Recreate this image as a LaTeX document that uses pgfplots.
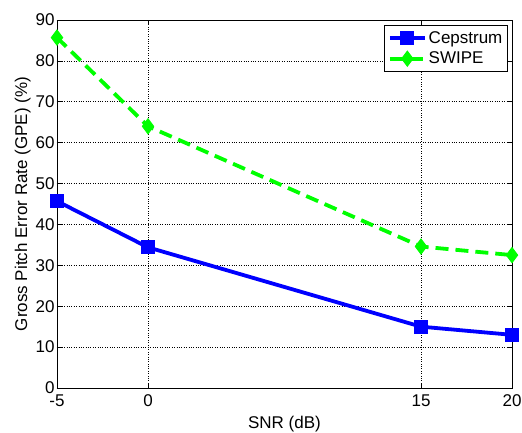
\documentclass[border=0pt]{standalone}
\usepackage{pgfplots}
\pgfplotsset{compat=1.18}
\usepackage{fontspec}
\setmainfont{Liberation Sans}
\begin{document}
\begin{tikzpicture}
\begin{axis}[
  at={(0,0)}, anchor=south west,
  scale only axis,
  width=455bp, height=368bp,
  xmin=-5, xmax=20, ymin=0, ymax=90,
  xtick={-5,0,15,20},
  ytick={0,10,...,90},
  /pgf/number format/assume math mode=true,
  ticklabel style={font=\fontsize{17bp}{20bp}\selectfont},
  label style={font=\fontsize{17bp}{20bp}\selectfont},
  xlabel={SNR (dB)},
  ylabel={Gross Pitch Error Rate (GPE) (\%)},
  xlabel style={at={(ticklabel cs:0.5)}, yshift=-2.5bp},
  ylabel style={yshift=-2bp},
  xticklabel style={yshift=-3bp},
  yticklabel style={xshift=1bp},
  tick align=inside,
  major tick length=5bp,
  tick style={black, line width=0.6bp},
  axis line style={black, line width=0.8bp},
  grid=major,
  major grid style={black, dotted, line width=0.6bp},
  legend style={at={(rel axis cs:0.991,0.986)}, anchor=north east,
    draw=black, line width=1bp, fill=white,
    font=\fontsize{17bp}{20bp}\selectfont,
    inner xsep=3bp, inner ysep=4bp, row sep=3bp},
  legend cell align=left,
  legend image code/.code={%
    \draw[mark repeat=2,mark phase=2,#1] plot coordinates {(0bp,0bp)(17.5bp,0bp)(35bp,0bp)};},
]
\addplot[color=blue, solid, line width=3.8bp, mark=square*,
  mark size=6.5bp, mark options={solid, line width=1bp, fill=blue}]
  coordinates {(-5,45.7) (0,34.4) (15,15.0) (20,13.0)};
\addlegendentry{Cepstrum}
\addplot[color=green, line width=3.8bp, dash pattern=on 13bp off 7bp,
  mark=diamond*, mark size=7.5bp, mark options={solid, line width=1bp, fill=green}]
  coordinates {(-5,85.7) (0,64.0) (15,34.6) (20,32.5)};
\addlegendentry{SWIPE}
\end{axis}
\pgfresetboundingbox
\useasboundingbox (-57bp,-45bp) rectangle (465bp,388bp);
\end{tikzpicture}
\end{document}
